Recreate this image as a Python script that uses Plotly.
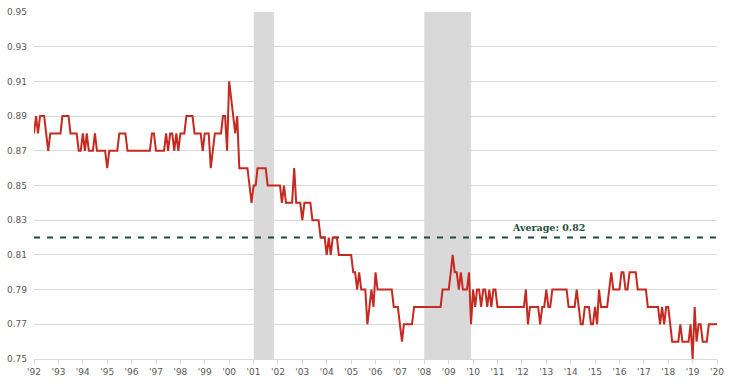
import pandas as pd
import plotly.graph_objects as go

# Monthly values, Jan 1992 .. Jan 2020 (one row per year)
v1992 = [0.88, 0.89, 0.88, 0.89, 0.89, 0.89, 0.88, 0.87, 0.88, 0.88, 0.88, 0.88]
v1993 = [0.88, 0.88, 0.89, 0.89, 0.89, 0.89, 0.88, 0.88, 0.88, 0.88, 0.87, 0.87]
v1994 = [0.88, 0.87, 0.88, 0.87, 0.87, 0.87, 0.88, 0.87, 0.87, 0.87, 0.87, 0.87]
v1995 = [0.86, 0.87, 0.87, 0.87, 0.87, 0.87, 0.88, 0.88, 0.88, 0.88, 0.87, 0.87]
v1996 = [0.87, 0.87, 0.87, 0.87, 0.87, 0.87, 0.87, 0.87, 0.87, 0.87, 0.88, 0.88]
v1997 = [0.87, 0.87, 0.87, 0.87, 0.87, 0.88, 0.87, 0.88, 0.88, 0.87, 0.88, 0.87]
v1998 = [0.88, 0.88, 0.88, 0.89, 0.89, 0.89, 0.89, 0.88, 0.88, 0.88, 0.88, 0.87]
v1999 = [0.88, 0.88, 0.88, 0.86, 0.87, 0.88, 0.88, 0.88, 0.88, 0.89, 0.89, 0.87]
v2000 = [0.91, 0.90, 0.89, 0.88, 0.89, 0.86, 0.86, 0.86, 0.86, 0.86, 0.85, 0.84]
v2001 = [0.85, 0.85, 0.86, 0.86, 0.86, 0.86, 0.86, 0.85, 0.85, 0.85, 0.85, 0.85]
v2002 = [0.85, 0.85, 0.84, 0.85, 0.84, 0.84, 0.84, 0.84, 0.86, 0.84, 0.84, 0.84]
v2003 = [0.83, 0.84, 0.84, 0.84, 0.84, 0.83, 0.83, 0.83, 0.83, 0.82, 0.82, 0.82]
v2004 = [0.81, 0.82, 0.81, 0.82, 0.82, 0.82, 0.81, 0.81, 0.81, 0.81, 0.81, 0.81]
v2005 = [0.81, 0.80, 0.80, 0.79, 0.80, 0.79, 0.79, 0.79, 0.77, 0.78, 0.79, 0.78]
v2006 = [0.80, 0.79, 0.79, 0.79, 0.79, 0.79, 0.79, 0.79, 0.79, 0.78, 0.78, 0.78]
v2007 = [0.77, 0.76, 0.77, 0.77, 0.77, 0.77, 0.77, 0.78, 0.78, 0.78, 0.78, 0.78]
v2008 = [0.78, 0.78, 0.78, 0.78, 0.78, 0.78, 0.78, 0.78, 0.78, 0.79, 0.79, 0.79]
v2009 = [0.79, 0.80, 0.81, 0.80, 0.80, 0.79, 0.80, 0.79, 0.79, 0.79, 0.80, 0.77]
v2010 = [0.79, 0.78, 0.79, 0.79, 0.78, 0.79, 0.79, 0.78, 0.79, 0.78, 0.79, 0.79]
v2011 = [0.78, 0.78, 0.78, 0.78, 0.78, 0.78, 0.78, 0.78, 0.78, 0.78, 0.78, 0.78]
v2012 = [0.78, 0.78, 0.79, 0.77, 0.78, 0.78, 0.78, 0.78, 0.78, 0.77, 0.78, 0.78]
v2013 = [0.79, 0.78, 0.78, 0.79, 0.79, 0.79, 0.79, 0.79, 0.79, 0.79, 0.79, 0.78]
v2014 = [0.78, 0.78, 0.78, 0.79, 0.78, 0.77, 0.77, 0.78, 0.78, 0.78, 0.77, 0.77]
v2015 = [0.78, 0.77, 0.79, 0.78, 0.78, 0.78, 0.78, 0.79, 0.80, 0.79, 0.79, 0.79]
v2016 = [0.79, 0.80, 0.80, 0.79, 0.79, 0.80, 0.80, 0.80, 0.80, 0.79, 0.79, 0.79]
v2017 = [0.79, 0.79, 0.78, 0.78, 0.78, 0.78, 0.78, 0.78, 0.77, 0.78, 0.77, 0.78]
v2018 = [0.78, 0.77, 0.76, 0.76, 0.76, 0.76, 0.77, 0.76, 0.76, 0.76, 0.76, 0.77]
v2019 = [0.75, 0.78, 0.76, 0.77, 0.77, 0.76, 0.76, 0.76, 0.77, 0.77, 0.77, 0.77]
v2020 = [0.77]

values = (v1992 + v1993 + v1994 + v1995 + v1996 + v1997 + v1998 + v1999 + v2000
          + v2001 + v2002 + v2003 + v2004 + v2005 + v2006 + v2007 + v2008 + v2009
          + v2010 + v2011 + v2012 + v2013 + v2014 + v2015 + v2016 + v2017 + v2018
          + v2019 + v2020)
dates = pd.date_range("1992-01-01", periods=len(values), freq="MS")

average = 0.82
average_label = "Average: 0.82"
recessions = [("2001-01-05", "2001-11-01"), ("2008-01-01", "2009-12-01")]
y_ticks = [0.75, 0.77, 0.79, 0.81, 0.83, 0.85, 0.87, 0.89, 0.91, 0.93, 0.95]
x_start, x_end = "1992-01-01", "2020-01-01"

fig = go.Figure()

for a, b in recessions:
    fig.add_vrect(x0=a, x1=b, fillcolor="#d9d9d9", opacity=1, line_width=0, layer="below")

fig.add_trace(go.Scatter(
    x=[x_start, x_end], y=[average, average], mode="lines",
    line=dict(color="#1e4d3b", width=2, dash="6px,7px"), hoverinfo="skip",
))

fig.add_trace(go.Scatter(
    x=dates, y=values, mode="lines",
    line=dict(color="#c5291f", width=2),
))

fig.add_annotation(
    x="2013-02-01", y=average, yshift=10, text=f"<b>{average_label}</b>",
    showarrow=False, font=dict(family="DejaVu Serif", size=9.5, color="#1e4d3b"),
)

fig.update_layout(
    width=729, height=383,
    margin=dict(l=34, r=12, t=12, b=24),
    paper_bgcolor="white", plot_bgcolor="white",
    showlegend=False,
    font=dict(family="DejaVu Sans", size=9, color="#595959"),
)
fig.update_xaxes(
    range=[x_start, x_end], type="date", automargin=False,
    dtick="M12", tick0="1992-01-01", tickformat="'%y",
    showgrid=False, showline=True, linecolor="#d9d9d9", linewidth=1,
    ticks="outside", ticklen=4, tickcolor="#d9d9d9",
    tickfont=dict(size=9, color="#595959"),
)
fig.update_yaxes(
    range=[0.75, 0.95], tickvals=y_ticks, ticktext=[f"{t:.2f}" for t in y_ticks],
    automargin=False,
    showgrid=True, gridcolor="#d9d9d9", gridwidth=1, zeroline=False,
    showline=False, ticks="", ticklabelstandoff=6,
    tickfont=dict(size=9, color="#595959"),
)

fig.write_html("out.html", config={"displayModeBar": False},
               post_script="document.body.style.margin='0';")
